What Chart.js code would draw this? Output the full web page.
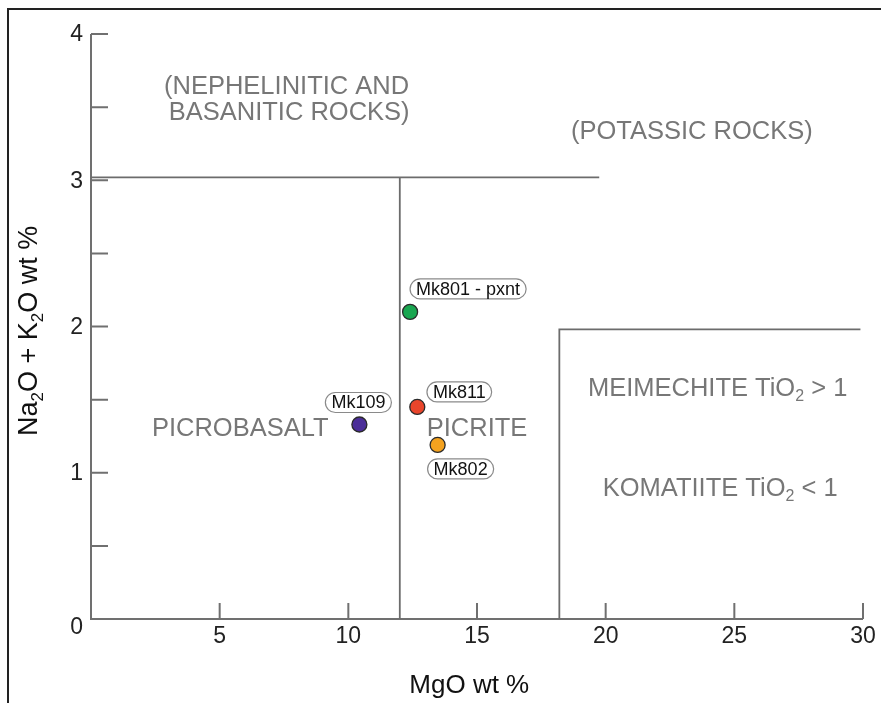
<!DOCTYPE html>
<html>
<head>
<meta charset="utf-8">
<script src="https://cdn.jsdelivr.net/npm/chart.js@4/dist/chart.umd.min.js"></script>
<style>
  html, body { margin: 0; padding: 0; background: #fff; }
  #wrap { position: relative; width: 881px; height: 703px; }
  #frame { position: absolute; left: 7px; top: 8px; right: 0; bottom: 0;
           border-top: 2px solid #222; border-left: 2px solid #222; pointer-events: none; }
</style>
</head>
<body>
<div id="wrap">
  <canvas id="tas" width="881" height="703"></canvas>
  <div id="frame"></div>
</div>
<script>
// axis ticks
const xTicks = [5, 10, 15, 20, 25, 30];
const yTicks = [0.5, 1, 1.5, 2, 2.5, 3, 3.5, 4];
const yTickLabels = [0, 1, 2, 3, 4];

// samples
const sampleNames = ['Mk109', 'Mk801 - pxnt', 'Mk811', 'Mk802'];
const sampleMgO = [10.43, 12.40, 12.68, 13.47];
const sampleAlkali = [1.33, 2.10, 1.45, 1.19];
const sampleColors = ['#4b2e98', '#19a650', '#e9452b', '#f4a21f'];

// field boundaries
const upperLineX = [0, 19.75];
const upperLineY = [3.02, 3.02];
const picriteLineX = [12, 12];
const picriteLineY = [0, 3.02];
const komatiiteLineX = [18.2, 18.2, 29.9];
const komatiiteLineY = [0, 1.98, 1.98];

// field names (each entry: list of [text, isSubscript])
const fieldNames = [
    [['(NEPHELINITIC AND', false]],
    [['BASANITIC ROCKS)', false]],
    [['(POTASSIC ROCKS)', false]],
    [['PICROBASALT', false]],
    [['PICRITE', false]],
    [['MEIMECHITE TiO', false], ['2', true], [' > 1', false]],
    [['KOMATIITE TiO', false], ['2', true], [' < 1', false]]
];
const fieldX = [7.6, 7.7, 23.35, 5.8, 15.0, 24.35, 24.45];
const fieldY = [3.64, 3.46, 3.33, 1.30, 1.30, 1.575, 0.89];

// label box offsets from each point (px)
const labelDx = [-1, 58, 42, 23];
const labelDy = [-22, -23, -15, 24];

const FONT = '"Liberation Sans", Arial, sans-serif';

function toPoints(xs, ys) {
    return xs.map((x, i) => ({ x: x, y: ys[i] }));
}

function drawRich(ctx, parts, cx, cy, size, color) {
    const mainFont = size + 'px ' + FONT;
    const subFont = Math.round(size * 0.62) + 'px ' + FONT;
    let total = 0;
    const widths = parts.map(p => {
        ctx.font = p[1] ? subFont : mainFont;
        const w = ctx.measureText(p[0]).width;
        total += w;
        return w;
    });
    let x = cx - total / 2;
    ctx.fillStyle = color;
    ctx.textAlign = 'left';
    ctx.textBaseline = 'middle';
    parts.forEach((p, i) => {
        ctx.font = p[1] ? subFont : mainFont;
        ctx.fillText(p[0], x, cy + (p[1] ? size * 0.3 : 0));
        x += widths[i];
    });
}

const tasDecor = {
    id: 'tasDecor',
    beforeDatasetsDraw(chart) {
        const ctx = chart.ctx;
        const xs = chart.scales.x, ys = chart.scales.y;
        const x0 = xs.getPixelForValue(0), x30 = xs.getPixelForValue(30);
        const y0 = ys.getPixelForValue(0), y4 = ys.getPixelForValue(4);
        ctx.save();
        ctx.strokeStyle = '#707070';
        ctx.lineWidth = 2;
        ctx.beginPath();
        ctx.moveTo(x0, y4);
        ctx.lineTo(x0, y0);
        ctx.lineTo(x30, y0);
        yTicks.forEach(v => {
            const py = ys.getPixelForValue(v);
            ctx.moveTo(x0, py);
            ctx.lineTo(x0 + 17, py);
        });
        xTicks.forEach(v => {
            const px = xs.getPixelForValue(v);
            ctx.moveTo(px, y0);
            ctx.lineTo(px, y0 - 16);
        });
        ctx.stroke();

        // tick labels
        ctx.fillStyle = '#222';
        ctx.font = '23px ' + FONT;
        ctx.textAlign = 'center';
        ctx.textBaseline = 'middle';
        xTicks.forEach(v => {
            ctx.fillText(String(v), xs.getPixelForValue(v), y0 + 18);
        });
        ctx.textAlign = 'right';
        yTickLabels.forEach(v => {
            const py = ys.getPixelForValue(v) + (v === 0 ? 9 : 1);
            ctx.fillText(String(v), x0 - 8, py);
        });

        // axis titles
        ctx.font = '26px ' + FONT;
        ctx.textAlign = 'center';
        ctx.fillStyle = '#111';
        ctx.fillText('MgO wt %', xs.getPixelForValue(14.7), 686);
        ctx.translate(30, ys.getPixelForValue(1.97));
        ctx.rotate(-Math.PI / 2);
        drawRich(ctx, [['Na', false], ['2', true], ['O + K', false], ['2', true], ['O wt %', false]], 0, 0, 27, '#111');
        ctx.restore();

        // field names
        ctx.save();
        fieldNames.forEach((parts, i) => {
            drawRich(ctx, parts, xs.getPixelForValue(fieldX[i]), ys.getPixelForValue(fieldY[i]), 25.5, '#777');
        });
        ctx.restore();
    },
    afterDatasetsDraw(chart) {
        const ctx = chart.ctx;
        const xs = chart.scales.x, ys = chart.scales.y;
        ctx.save();
        ctx.font = '18px ' + FONT;
        ctx.textAlign = 'center';
        ctx.textBaseline = 'middle';
        sampleNames.forEach((name, i) => {
            const cx = xs.getPixelForValue(sampleMgO[i]) + labelDx[i];
            const cy = ys.getPixelForValue(sampleAlkali[i]) + labelDy[i];
            const w = ctx.measureText(name).width + 12;
            const h = 20;
            ctx.beginPath();
            ctx.roundRect(cx - w / 2, cy - h / 2, w, h, 10);
            ctx.fillStyle = '#fff';
            ctx.fill();
            ctx.strokeStyle = '#8a8a8a';
            ctx.lineWidth = 1.2;
            ctx.stroke();
            ctx.fillStyle = '#111';
            ctx.fillText(name, cx, cy + 1);
        });
        ctx.restore();
    }
};

const lineStyle = {
    type: 'line',
    showLine: true,
    fill: false,
    borderColor: '#6c6c6c',
    borderWidth: 1.8,
    pointRadius: 0,
    tension: 0,
    clip: false
};

const dataTas = {
    datasets: [
        Object.assign({ label: 'upper', data: toPoints(upperLineX, upperLineY) }, lineStyle),
        Object.assign({ label: 'picrite', data: toPoints(picriteLineX, picriteLineY) }, lineStyle),
        Object.assign({ label: 'komatiite', data: toPoints(komatiiteLineX, komatiiteLineY) }, lineStyle),
        {
            type: 'scatter',
            label: 'samples',
            data: toPoints(sampleMgO, sampleAlkali),
            backgroundColor: sampleColors,
            borderColor: '#2a2a2a',
            borderWidth: 1.3,
            pointRadius: 7.5,
            clip: false
        }
    ]
};

const configTas = {
    type: 'scatter',
    data: dataTas,
    options: {
        responsive: false,
        animation: false,
        events: [],
        layout: {
            padding: { left: 91, right: 18, top: 34, bottom: 84 }
        },
        scales: {
            x: { type: 'linear', min: 0, max: 30, display: false },
            y: { type: 'linear', min: 0, max: 4, display: false }
        },
        plugins: {
            legend: { display: false },
            tooltip: { enabled: false }
        }
    },
    plugins: [tasDecor]
};

const chartTas = new Chart(document.getElementById('tas'), configTas);
</script>
</body>
</html>
